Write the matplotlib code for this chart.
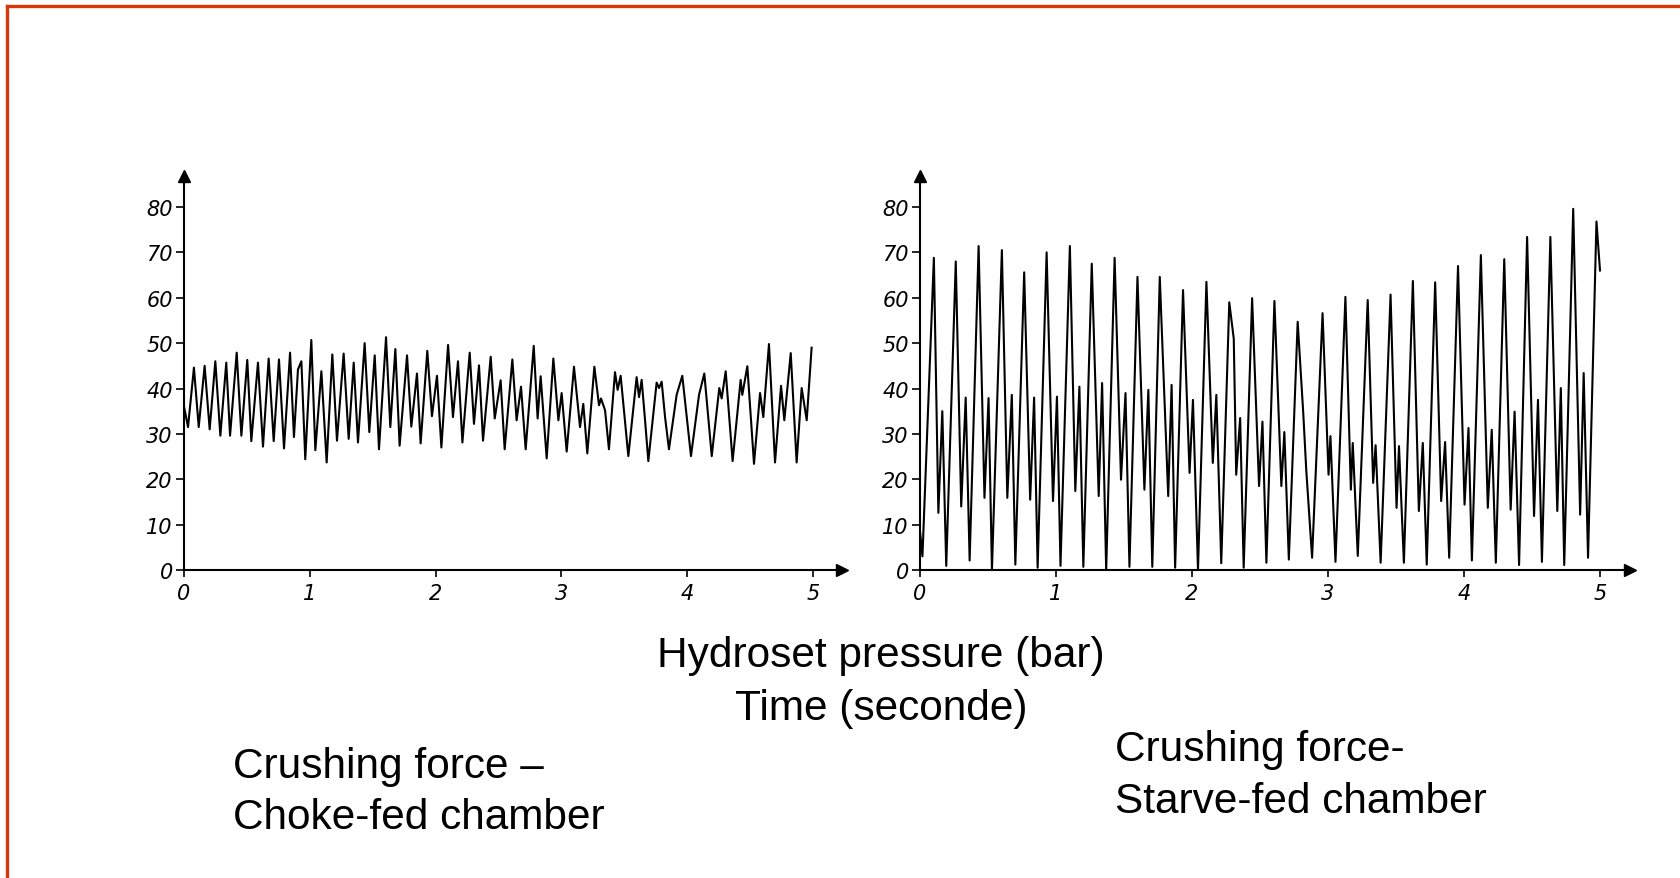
import matplotlib
matplotlib.use("Agg")
import matplotlib.pyplot as plt
from matplotlib.lines import Line2D

# choke-fed chamber trace (time s, pressure bar), read peak by peak
t_choke = [0.0, 0.011, 0.032, 0.079, 0.117, 0.164, 0.204, 0.249, 0.289, 0.336,
           0.366, 0.419, 0.456, 0.503, 0.535, 0.588, 0.628, 0.673, 0.713, 0.755,
           0.795, 0.843, 0.874, 0.906, 0.933, 0.964, 1.012, 1.044, 1.092, 1.134,
           1.179, 1.216, 1.269, 1.309, 1.349, 1.383, 1.436, 1.473, 1.516, 1.550,
           1.606, 1.640, 1.680, 1.714, 1.773, 1.807, 1.852, 1.881, 1.934, 1.971,
           2.011, 2.046, 2.099, 2.138, 2.178, 2.213, 2.271, 2.305, 2.345, 2.377,
           2.438, 2.470, 2.517, 2.549, 2.610, 2.644, 2.679, 2.716, 2.780, 2.811,
           2.835, 2.883, 2.936, 2.976, 3.002, 3.042, 3.100, 3.148, 3.174, 3.206,
           3.262, 3.299, 3.315, 3.347, 3.378, 3.426, 3.447, 3.471, 3.532, 3.598,
           3.617, 3.638, 3.665, 3.691, 3.757, 3.776, 3.797, 3.824, 3.855, 3.916,
           3.961, 4.030, 4.094, 4.136, 4.195, 4.255, 4.274, 4.306, 4.361, 4.425,
           4.438, 4.478, 4.531, 4.579, 4.605, 4.650, 4.698, 4.746, 4.772, 4.823,
           4.870, 4.910, 4.950, 4.989]
p_choke = [36, 34.5, 31.5, 44.6, 31.5, 45, 31, 46, 29.6, 45.7,
           29.6, 47.9, 29.6, 46.3, 28.4, 45.7, 27.2, 46.6, 28.4, 46.4,
           26.8, 47.9, 29.3, 44.2, 46, 24.4, 50.7, 26.4, 43.8, 23.7,
           47.5, 28.5, 47.7, 28.9, 45.7, 28.1, 50, 30.4, 47.3, 26.6,
           51.3, 31.5, 48.7, 27.4, 47.3, 31.6, 43.3, 27.9, 48.3, 33.9,
           42.8, 27, 49.6, 33.7, 46, 28.1, 47.9, 32.2, 45.1, 28.5,
           47, 33.4, 41.8, 26.6, 46.4, 33, 40.4, 26.6, 49.4, 33.4,
           42.7, 24.6, 46.6, 33, 39, 26.1, 44.8, 31.5, 36.6, 25.7,
           44.8, 36.3, 37.8, 35.2, 26.6, 43.6, 39.7, 42.8, 25.1, 42.5,
           38.1, 41.9, 33, 24, 41.3, 40.1, 41.5, 33.7, 26.6, 38.6,
           42.8, 25.1, 38.6, 43.3, 25.1, 40.1, 37.8, 43.8, 24, 41.9,
           38.6, 44.9, 23.4, 39, 33.7, 49.8, 23.7, 40.6, 33, 47.8,
           23.7, 40.1, 33, 49]

# starve-fed chamber trace
t_starve = [0.0, 0.018, 0.102, 0.135, 0.164, 0.193, 0.263, 0.303, 0.336, 0.365,
            0.431, 0.474, 0.504, 0.529, 0.602, 0.642, 0.675, 0.701, 0.766, 0.810,
            0.839, 0.865, 0.931, 0.978, 1.007, 1.033, 1.102, 1.142, 1.172, 1.201,
            1.263, 1.314, 1.339, 1.369, 1.431, 1.478, 1.511, 1.540, 1.599, 1.650,
            1.679, 1.708, 1.763, 1.825, 1.850, 1.876, 1.934, 1.982, 2.007, 2.044,
            2.106, 2.153, 2.179, 2.215, 2.274, 2.307, 2.325, 2.354, 2.380, 2.442,
            2.493, 2.518, 2.547, 2.606, 2.657, 2.679, 2.712, 2.777, 2.818, 2.840,
            2.883, 2.960, 3.004, 3.018, 3.055, 3.128, 3.168, 3.182, 3.219, 3.292,
            3.332, 3.350, 3.387, 3.460, 3.504, 3.522, 3.558, 3.624, 3.668, 3.697,
            3.726, 3.788, 3.832, 3.861, 3.891, 3.956, 4.004, 4.033, 4.058, 4.124,
            4.175, 4.204, 4.234, 4.296, 4.343, 4.372, 4.405, 4.464, 4.515, 4.544,
            4.573, 4.635, 4.686, 4.712, 4.737, 4.803, 4.854, 4.880, 4.912, 4.974,
            5.0]
p_starve = [8.6, 3, 68.8, 12.6, 35, 0.9, 68, 14, 38, 2.1,
            71.4, 15.9, 37.9, 0, 70.5, 15.9, 38.6, 1.2, 65.6, 15.5,
            38, 0.5, 70, 15.2, 38.2, 0.9, 71.4, 17.4, 40.4, 0.7,
            67.5, 16.3, 41.2, 0, 68.8, 19.9, 39, 0.7, 64.6, 17.7,
            39.7, 0.7, 64.6, 16.3, 40.8, 0.5, 61.7, 21.4, 37.5, 0,
            63.5, 23.6, 38.6, 1.5, 59, 51, 21, 33.5, 0.5, 59.9,
            18.5, 32.7, 1.6, 59.3, 18.5, 30.4, 2.3, 54.7, 34.6, 22.1,
            2.7, 56.6, 21, 29.5, 1.8, 60.2, 17.7, 28, 3.1, 59.5,
            19.2, 27.5, 1.6, 60.7, 13.7, 27.3, 1.6, 63.7, 13, 28,
            1.2, 63.4, 15.2, 28.2, 2.7, 67, 14.4, 31.3, 2.1, 69.4,
            13.7, 30.9, 1.6, 68.5, 13.3, 34.9, 1.1, 73.4, 11.9, 37.5,
            1.8, 73.4, 13, 40.1, 1.1, 79.6, 12.2, 43.4, 2.7, 76.8,
            66]

y_ticks = [0, 10, 20, 30, 40, 50, 60, 70, 80]
x_ticks = [0, 1, 2, 3, 4, 5]

W, H = 1681, 879
fig = plt.figure(figsize=(W / 100, H / 100), dpi=100)
fig.patch.set_facecolor("white")

tick_font = dict(family=["Liberation Sans Narrow", "DejaVu Sans"], style="italic", size=15)


def trace_axes(rect, t, p, xmax, ymax):
    ax = fig.add_axes(rect)
    ax.plot(t, p, color="black", lw=1.5, solid_joinstyle="round")
    ax.set_xlim(0, xmax)
    ax.set_ylim(0, ymax)
    for s in ["top", "right"]:
        ax.spines[s].set_visible(False)
    for s in ["left", "bottom"]:
        ax.spines[s].set_linewidth(1.5)
    ax.set_yticks(y_ticks)
    ax.set_xticks(x_ticks)
    ax.set_yticklabels([str(v) for v in y_ticks], fontdict=tick_font)
    ax.set_xticklabels([str(v) for v in x_ticks], fontdict=tick_font)
    ax.tick_params(axis="y", direction="out", length=6, width=1.2, pad=2)
    ax.tick_params(axis="x", direction="out", length=5, width=1.2, pad=4)
    ax.plot(1, 0, ">k", transform=ax.transAxes, clip_on=False, markersize=8)
    ax.plot(0, 1, "^k", transform=ax.transAxes, clip_on=False, markersize=8)
    ax.set_facecolor("none")
    return ax


y0, y_top = 571, 177
px_per_bar = (571 - 208) / 80.0
ymax = (y0 - y_top) / px_per_bar
bottom = 1 - y0 / H
height = (y0 - y_top) / H

# left chart: 0 s at x=184, 5 s at x=813, arrow at 842
trace_axes([184 / W, bottom, (842 - 184) / W, height], t_choke, p_choke,
           5 * (842 - 184) / (813 - 184), ymax)
# right chart: 0 s at x=920, 5 s at x=1600, arrow at 1630
trace_axes([920 / W, bottom, (1630 - 920) / W, height], t_starve, p_starve,
           5 * (1630 - 920) / (1600 - 920), ymax)

txt = dict(family=["Liberation Sans", "DejaVu Sans"], size=30.5, color="black", va="baseline")
fig.text(881 / W, 1 - 667 / H, "Hydroset pressure (bar)", ha="center", **txt)
fig.text(881 / W, 1 - 720 / H, "Time (seconde)", ha="center", **txt)
fig.text(233 / W, 1 - 778 / H, "Crushing force \u2013", ha="left", **txt)
fig.text(233 / W, 1 - 829 / H, "Choke-fed chamber", ha="left", **txt)
fig.text(1115 / W, 1 - 761 / H, "Crushing force-", ha="left", **txt)
fig.text(1115 / W, 1 - 813 / H, "Starve-fed chamber", ha="left", **txt)

# slide frame, top and left edges
red = "#d9360b"
fig.add_artist(Line2D([7 / W, 7 / W], [0, 1 - 7 / H], color=red, lw=2.4))
fig.add_artist(Line2D([7 / W, 1], [1 - 7 / H, 1 - 7 / H], color=red, lw=2.4))

fig.savefig("out.png", dpi=100, facecolor="white")
